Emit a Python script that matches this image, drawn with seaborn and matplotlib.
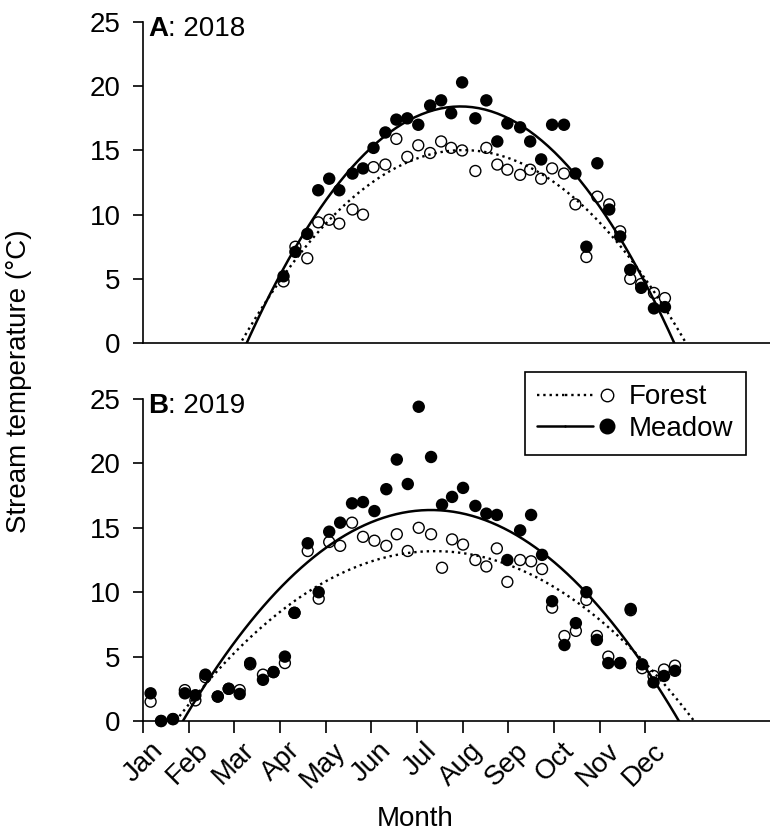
import numpy as np
import pandas as pd
import matplotlib
matplotlib.use("Agg")
import matplotlib.pyplot as plt
import matplotlib.transforms as mtransforms
from matplotlib.lines import Line2D
from matplotlib.legend_handler import HandlerTuple
import seaborn as sns

# month tick labels (x axis is in months since 1 Jan)
months = ["Jan", "Feb", "Mar", "Apr", "May", "Jun",
          "Jul", "Aug", "Sep", "Oct", "Nov", "Dec"]

# 2018 weekly samples
x_2018 = [3.08, 3.34, 3.60, 3.84, 4.08, 4.30, 4.59, 4.82, 5.05, 5.31, 5.55, 5.79,
          6.03, 6.29, 6.53, 6.75, 6.99, 7.28, 7.52, 7.76, 7.98, 8.26, 8.48, 8.72,
          8.96, 9.22, 9.47, 9.71, 9.95, 10.21, 10.45, 10.67, 10.91, 11.19, 11.43]
forest_2018 = [4.8, 7.5, 6.6, 9.4, 9.6, 9.3, 10.4, 10.0, 13.7, 13.9, 15.9, 14.5,
               15.4, 14.8, 15.7, 15.2, 15.0, 13.4, 15.2, 13.9, 13.5, 13.1, 13.5, 12.8,
               13.6, 13.2, 10.8, 6.7, 11.4, 10.8, 8.7, 5.0, 4.6, 3.9, 3.5]
meadow_2018 = [5.2, 7.1, 8.5, 11.9, 12.8, 11.9, 13.2, 13.6, 15.2, 16.4, 17.4, 17.5,
               17.0, 18.5, 18.9, 17.9, 20.3, 17.5, 18.9, 15.7, 17.1, 16.8, 15.7, 14.3,
               17.0, 17.0, 13.2, 7.5, 14.0, 10.4, 8.3, 5.7, 4.3, 2.7, 2.8]

# 2019 weekly samples
x_2019 = [0.17, 0.40, 0.66, 0.92, 1.15, 1.37, 1.64, 1.88, 2.12, 2.35, 2.63, 2.86,
          3.11, 3.32, 3.61, 3.85, 4.08, 4.32, 4.58, 4.82, 5.07, 5.33, 5.56, 5.80,
          6.04, 6.31, 6.55, 6.77, 7.01, 7.28, 7.52, 7.75, 7.98, 8.26, 8.50, 8.74,
          8.96, 9.23, 9.48, 9.71, 9.94, 10.19, 10.45, 10.68, 10.93, 11.18, 11.41, 11.65]
forest_2019 = [1.5, 0.0, 0.15, 2.4, 1.6, 3.4, 1.9, 2.5, 2.4, 4.4, 3.6, 3.8,
               4.5, 8.4, 13.2, 9.5, 13.9, 13.6, 15.4, 14.3, 14.0, 13.6, 14.5, 13.2,
               15.0, 14.5, 11.9, 14.1, 13.7, 12.5, 12.0, 13.4, 10.8, 12.5, 12.4, 11.8,
               8.8, 6.6, 7.0, 9.4, 6.6, 5.0, 4.5, 8.6, 4.1, 3.5, 4.0, 4.3]
meadow_2019 = [2.15, 0.0, 0.15, 2.15, 2.0, 3.6, 1.9, 2.5, 2.1, 4.5, 3.2, 3.8,
               5.0, 8.4, 13.8, 10.0, 14.7, 15.4, 16.9, 17.0, 16.3, 18.0, 20.3, 18.4,
               24.4, 20.5, 16.8, 17.4, 18.1, 16.7, 16.1, 16.0, 12.5, 14.8, 16.0, 12.9,
               9.3, 5.9, 7.6, 10.0, 6.3, 4.5, 4.5, 8.7, 4.4, 3.0, 3.5, 3.9]

sns.set_style("ticks", {"axes.edgecolor": "black", "xtick.color": "black",
                        "ytick.color": "black", "text.color": "black",
                        "axes.labelcolor": "black"})
plt.rcParams["font.family"] = ["Liberation Sans", "DejaVu Sans"]
plt.rcParams["font.size"] = 20

fig = plt.figure(figsize=(7.7, 8.32), dpi=100)
ax_a = fig.add_axes([0.1855, 0.5877, 0.8145, 0.3858])
ax_b = fig.add_axes([0.1855, 0.1334, 0.8145, 0.3870])

panels = [(ax_a, "A", ": 2018", x_2018, forest_2018, meadow_2018),
          (ax_b, "B", ": 2019", x_2019, forest_2019, meadow_2019)]

for ax, letter, year, x, forest, meadow in panels:
    df = pd.DataFrame({"month": x, "forest": forest, "meadow": meadow})
    ax.set_xlim(0, 13.73)
    ax.set_ylim(0, 25)

    # quadratic fits over the whole axis, clipped at 0
    sns.regplot(data=df, x="month", y="forest", order=2, ci=None, truncate=False,
                scatter=False, ax=ax, line_kws=dict(color="k", ls=":", lw=1.7))
    sns.regplot(data=df, x="month", y="meadow", order=2, ci=None, truncate=False,
                scatter=False, ax=ax, line_kws=dict(color="k", ls="-", lw=1.8))

    ax.scatter(df["month"], df["forest"], s=62, facecolors="none", edgecolors="k",
               linewidths=1.0, zorder=3, clip_on=False)
    ax.scatter(df["month"], df["meadow"], s=80, color="k", edgecolors="none",
               zorder=4, clip_on=False)

    ax.set_xlim(0, 13.73)
    ax.set_ylim(0, 25)
    ax.set_xlabel("")
    ax.set_ylabel("")
    ax.set_yticks([0, 5, 10, 15, 20, 25])
    ax.set_xticks(range(12))
    sns.despine(ax=ax)
    for s in ["left", "bottom"]:
        ax.spines[s].set_linewidth(1.2)
    ax.tick_params(axis="y", length=7, width=1.2, pad=9, labelsize=20)

    t = ax.text(0.12, 23.9, letter, fontweight="bold", fontsize=20, va="baseline")
    ax.annotate(year, xy=(1, 0), xycoords=t, va="bottom", fontsize=20)

ax_a.tick_params(axis="x", length=0, labelbottom=False)
ax_b.tick_params(axis="x", length=8.5, width=1.2, pad=2, labelsize=20)
ax_b.set_xticklabels(months, rotation=45, ha="right", va="top",
                     rotation_mode="anchor")
shift = mtransforms.ScaledTranslation(7 / 100, -2 / 100, fig.dpi_scale_trans)
for lab in ax_b.get_xticklabels():
    lab.set_transform(lab.get_transform() + shift)

# legend: line then marker at the right end
dot = dict(color="k", ls=":", lw=1.7)
sol = dict(color="k", ls="-", lw=1.8)
forest_h = (Line2D([], [], **dot), Line2D([], [], **dot),
            Line2D([], [], ls="none", marker="o", ms=9, mfc="none", mec="k", mew=1.0))
meadow_h = (Line2D([], [], **sol), Line2D([], [], **sol),
            Line2D([], [], ls="none", marker="o", ms=10.5, mfc="k", mec="k"))
leg = ax_b.legend([forest_h, meadow_h], ["Forest", "Meadow"],
                  handler_map={tuple: HandlerTuple(ndivide=None, pad=0)},
                  loc="upper right", bbox_to_anchor=(746 / 770, 1 - 372 / 832),
                  bbox_transform=fig.transFigure, borderaxespad=0,
                  frameon=True, fancybox=False, framealpha=1, edgecolor="k",
                  handlelength=3.0, handletextpad=0.3, labelspacing=0.2,
                  borderpad=0.45, fontsize=20)
leg.get_frame().set_linewidth(1.2)

fig.text(19 / 770, 1 - 381 / 832, "Stream temperature (°C)", rotation=90,
         ha="center", va="center", fontsize=20)
fig.text(415 / 770, 1 - 826 / 832, "Month", ha="center", va="baseline", fontsize=20)

fig.savefig("out.png", dpi=100)
